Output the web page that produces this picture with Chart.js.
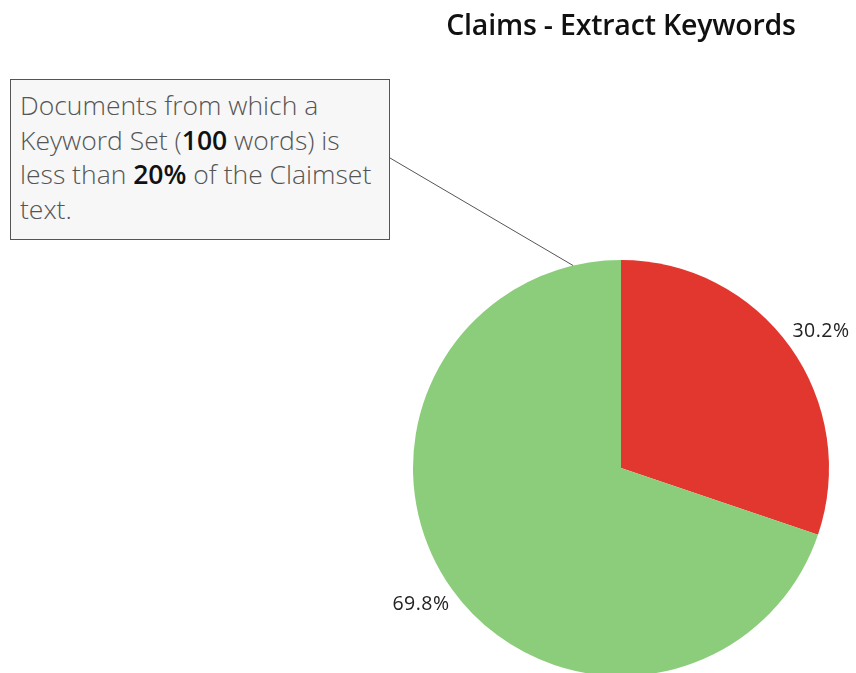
<!DOCTYPE html>
<html><head><meta charset="UTF-8">
<title>Claims - Extract Keywords</title>
<script src="https://cdn.jsdelivr.net/npm/chart.js"></script>
<style>
  html,body{margin:0;padding:0;background:#fff;overflow:hidden;width:856px;height:673px}
  #wrap{position:relative;width:856px;height:673px;overflow:hidden}
  #chart{position:absolute;left:0;top:0}
  h1{position:absolute;left:0;top:5px;width:1242px;margin:0;text-align:center;font:600 28.5px "Open Sans",sans-serif;color:#111;letter-spacing:-0.2px}
  .note{position:absolute;left:10px;top:79px;width:380px;height:161px;box-sizing:border-box;border:1px solid #555;background:#f7f7f7;
    padding:8px 0 0 9px;font:300 26.5px/34.5px "Open Sans",sans-serif;color:#555;letter-spacing:0}
  .note b{font-weight:600;color:#111}
</style>
</head><body>
<div id="wrap">
  <canvas id="chart" width="856" height="700"></canvas>
  <h1>Claims - Extract Keywords</h1>
  <div class="note">Documents from which a<br>Keyword Set (<b>100</b> words) is<br>less than <b>20%</b> of the Claimset<br>text.</div>
</div>
<script>
  const categories = ["Keyword Set < 20% of Claimset", "Other documents"];
  const shares = [30.2, 69.8];
  const sliceColors = ["#e2372f", "#8ccd7b"];
  const valueLabels = ["30.2%", "69.8%"];

  // labels outside each slice, aligned away from the centre
  const sliceLabels = {
    id: "sliceLabels",
    afterDatasetsDraw(chart) {
      const ctx = chart.ctx;
      const arcs = chart.getDatasetMeta(0).data;
      ctx.save();
      ctx.font = '19.5px "Open Sans", sans-serif';
      ctx.letterSpacing = "0.5px";
      ctx.fillStyle = "#222";
      ctx.textBaseline = "middle";
      arcs.forEach((a, i) => {
        const mid = (a.startAngle + a.endAngle) / 2 - 0.05;
        const r = a.outerRadius + 11;
        const x = a.x + Math.cos(mid) * r, y = a.y + Math.sin(mid) * r;
        ctx.textAlign = Math.cos(mid) >= 0 ? "left" : "right";
        ctx.fillText(valueLabels[i], x, y);
      });
      // connector from the note box to the edge of the pie
      const g = arcs[1];
      const ang = g.endAngle - 0.232;
      ctx.letterSpacing = "0px";
      ctx.strokeStyle = "#555";
      ctx.lineWidth = 1;
      ctx.beginPath();
      ctx.moveTo(390, 158);
      ctx.lineTo(g.x + Math.cos(ang) * g.outerRadius, g.y + Math.sin(ang) * g.outerRadius);
      ctx.stroke();
      ctx.restore();
    }
  };

  new Chart(document.getElementById("chart"), {
    type: "pie",
    data: {
      labels: categories,
      datasets: [{ data: shares, backgroundColor: sliceColors, borderWidth: 0 }]
    },
    options: {
      responsive: false,
      animation: false,
      layout: { padding: { left: 413, right: 27, top: 260, bottom: 24 } },
      plugins: { legend: { display: false }, tooltip: { enabled: false } }
    },
    plugins: [sliceLabels]
  });
</script>
</body></html>
